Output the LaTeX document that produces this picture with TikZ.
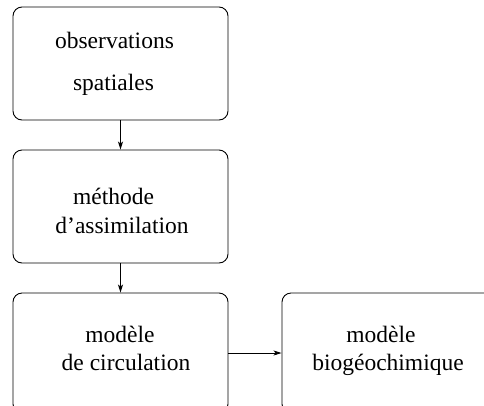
\documentclass[tikz,border=0pt]{standalone}
\usepackage{fontspec}
\setmainfont{Liberation Serif}
\usetikzlibrary{arrows.meta}
\begin{document}
\begin{tikzpicture}[x=1pt,y=-1pt,
  box/.style={draw,line width=0.9pt,rounded corners=9pt,inner sep=0pt},
  lbl/.style={font=\fontsize{23.5}{23.5}\selectfont,anchor=base,inner sep=0pt},
  conn/.style={line width=0.9pt,-{Stealth[length=8pt,width=5pt,inset=2pt]}}]
\useasboundingbox (0,0) rectangle (484,405);
\node[box,minimum width=215pt,minimum height=113pt] (b1) at (120.5,63.5) {};
\node[box,minimum width=215pt,minimum height=113pt] (b2) at (120.5,206.5) {};
\node[box,minimum width=215pt,minimum height=120pt] (b3) at (120.5,353) {};
\node[box,minimum width=215pt,minimum height=120pt] (b4) at (389.5,353) {};
\node[lbl] (t1a) at (114.5,48) {observations};
\node[lbl] (t1b) at (113.5,90) {spatiales};
\node[lbl] (t2a) at (113.5,204) {méthode};
\node[lbl] (t2b) at (122,233) {d’assimilation};
\node[lbl] (t3a) at (120,342) {modèle};
\node[lbl] (t3b) at (126,370) {de circulation};
\node[lbl] (t4a) at (381,342) {modèle};
\node[lbl] (t4b) at (388,370) {biogéochimique};
\draw[conn] (b1.south) -- (b2.north);
\draw[conn] (b2.south) -- (b3.north);
\draw[conn] (b3.east |- 0,353) -- (b4.west |- 0,353);
\end{tikzpicture}
\end{document}
